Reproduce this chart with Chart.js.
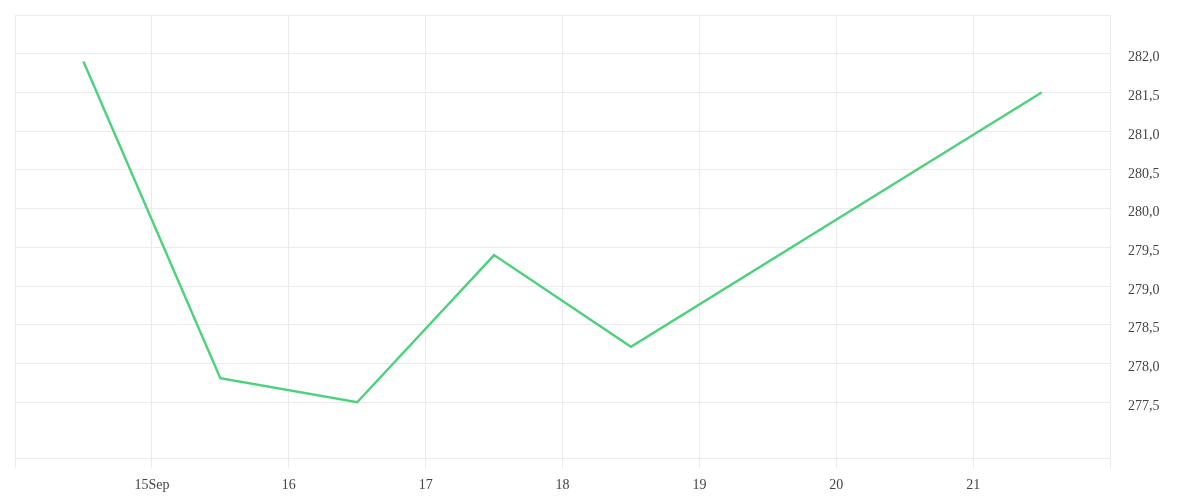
<!DOCTYPE html>
<html lang="en">
<head>
    <meta charset="UTF-8">
    <title>Price line</title>
    <script src="https://cdnjs.cloudflare.com/ajax/libs/Chart.js/4.4.1/chart.umd.min.js"></script>
    <style>
        body { margin: 0; background: #fff; }
    </style>
</head>
<body>
    <canvas id="myChart" width="1200" height="500"></canvas>
    <script>
        // day positions (points sit at mid-day) and values
        const dayPositions = [14.5, 15.5, 16.5, 17.5, 18.5, 21.5];
        const values = [281.9, 277.81, 277.5, 279.4, 278.215, 281.5];

        const xTickValues = [15, 16, 17, 18, 19, 20, 21];
        const xTickLabels = ['15Sep', '16', '17', '18', '19', '20', '21'];
        const yTickValues = [277.5, 278.0, 278.5, 279.0, 279.5, 280.0, 280.5, 281.0, 281.5, 282.0];

        const gridColor = '#ebebeb';

        Chart.defaults.font.family = '"Liberation Serif", serif';
        Chart.defaults.font.size = 14;
        Chart.defaults.color = '#444';

        const ctx = document.getElementById('myChart').getContext('2d');
        new Chart(ctx, {
            type: 'line',
            data: {
                datasets: [{
                    data: dayPositions.map((d, i) => ({ x: d, y: values[i] })),
                    borderColor: '#4cd27b',
                    borderWidth: 2.4,
                    pointRadius: 0,
                    tension: 0,
                    fill: false
                }]
            },
            options: {
                responsive: false,
                animation: false,
                devicePixelRatio: 1,
                layout: { padding: { left: 15, top: 15, right: 0, bottom: 0 } },
                plugins: {
                    legend: { display: false },
                    tooltip: { enabled: false }
                },
                scales: {
                    x: {
                        type: 'linear',
                        min: 14,
                        max: 22,
                        afterBuildTicks: s => {
                            s.ticks = [14, ...xTickValues, 22].map(v => ({ value: v }));
                        },
                        afterFit: s => {
                            s.height = 42;
                            s.paddingLeft = 0;
                            s.paddingRight = 0;
                        },
                        grid: { color: gridColor, tickLength: 10 },
                        border: { color: gridColor },
                        ticks: {
                            padding: 9,
                            maxRotation: 0,
                            autoSkip: false,
                            callback: v => {
                                const i = xTickValues.indexOf(v);
                                return i >= 0 ? xTickLabels[i] : '';
                            }
                        }
                    },
                    y: {
                        position: 'right',
                        min: 276.78,
                        max: 282.5,
                        afterBuildTicks: s => {
                            s.ticks = [...yTickValues, 282.5].map(v => ({ value: v }));
                        },
                        afterFit: s => {
                            s.width = 90;
                            s.paddingTop = 0;
                            s.paddingBottom = 0;
                        },
                        grid: { color: gridColor, drawTicks: false },
                        border: { color: gridColor },
                        ticks: {
                            padding: 18,
                            labelOffset: 4,
                            callback: v => yTickValues.includes(v) ? v.toFixed(1).replace('.', ',') : ''
                        }
                    }
                }
            }
        });
    </script>
</body>
</html>
